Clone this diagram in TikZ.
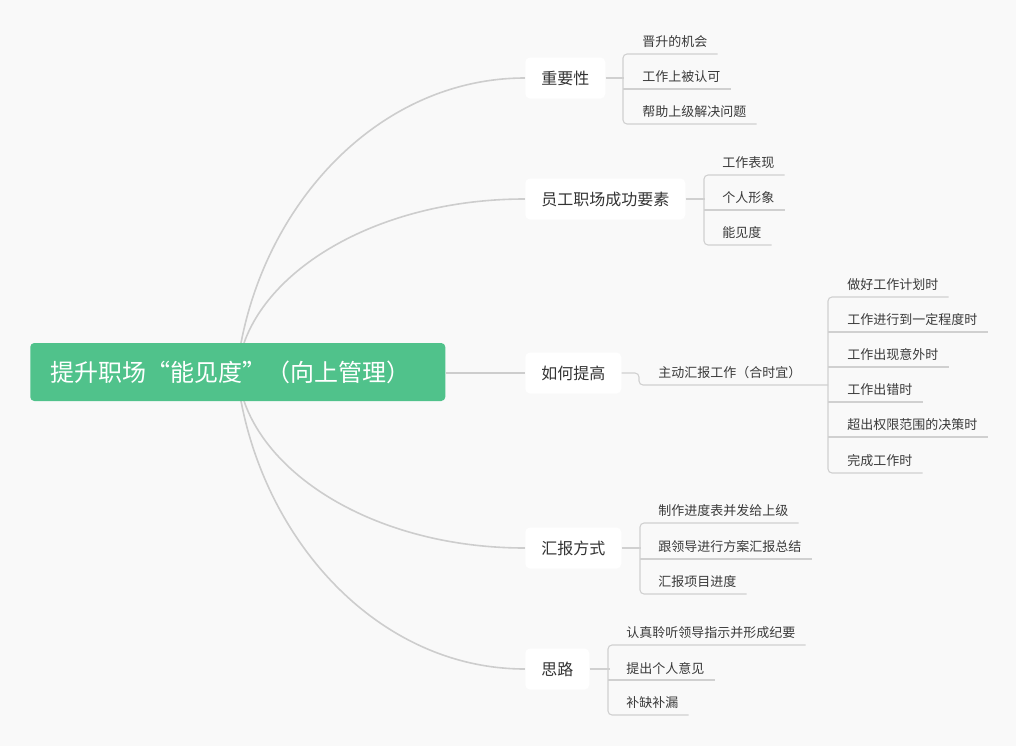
\documentclass[tikz,border=0pt]{standalone}
\usepackage{fontspec}
\setmainfont{Noto Sans CJK SC}
\usetikzlibrary{calc}
\definecolor{bg}{HTML}{F9F9F9}
\definecolor{rootg}{HTML}{50C28B}
\definecolor{curvec}{HTML}{CDCDCD}
\definecolor{ulc}{HTML}{D0D0D0}
\definecolor{txt}{HTML}{333333}
\definecolor{ctxt}{HTML}{3A3A3A}
\begin{document}
\begin{tikzpicture}[x=0.75pt,y=-0.75pt,
  rootbox/.style={fill=rootg, rounded corners=3pt, text=white,
    font=\fontsize{18}{20}\selectfont, minimum height=43.5pt,
    inner xsep=15pt, inner ysep=0pt, text width=281.25pt, align=left, anchor=west},
  branch/.style={fill=white, rounded corners=3.5pt, text=txt,
    font=\fontsize{12}{14}\selectfont, minimum height=30.75pt,
    inner xsep=12pt, inner ysep=0pt, anchor=west},
  child/.style={text=ctxt, font=\fontsize{9.75}{11}\selectfont, inner sep=0pt, anchor=west},
  curve/.style={draw=curvec, line width=1.2pt},
  ul/.style={draw=ulc, line width=0.8pt},
  bracket/.style={draw=ulc, line width=0.8pt, rounded corners=3pt}]
\fill[bg] (0,0) rectangle (1016,746);
\useasboundingbox (0,0) rectangle (1016,746);

% curve start points on the root box border
\coordinate (s1) at (241,343);
\coordinate (s2) at (244,343);
\coordinate (s4) at (244,401);
\coordinate (s5) at (241,401);
\path (525,78) coordinate (p1) (525,199) coordinate (p2) (525,548) coordinate (p4) (525,669) coordinate (p5);

\draw[curve] (s1) .. controls (269,197) and (383,78) .. (p1);
\draw[curve] (s2) .. controls (272,264) and (384,199) .. (p2);
\draw[curve] (s4) .. controls (272,482) and (384,548) .. (p4);
\draw[curve] (s5) .. controls (269,548) and (383,669) .. (p5);

\node[rootbox] (root) at (30,372) {提升职场“能见度”（向上管理）};

\node[branch] (b1) at (p1) {重要性};
\node[branch] (b2) at (p2) {员工职场成功要素};
\node[branch] (b3) at (525,373) {如何提高};
\node[branch] (b4) at (p4) {汇报方式};
\node[branch] (b5) at (p5) {思路};

\draw[curve] (root.east |- b3.west) -- (b3.west);

% group 1
\node[child] (a1) at (642,42) {晋升的机会};
\node[child] (a2) at (642,77) {工作上被认可};
\node[child] (a3) at (642,112) {帮助上级解决问题};
\draw[ul] (b1.east) -- ($(b1.east)+(18,0)$);
\draw[bracket] ($(a1.east)+(10,12)$) -- ($(a1.west)+(-19,12)$) -- ($(a3.west)+(-19,12)$) -- ($(a3.east)+(10,12)$);
\draw[ul] ($(a2.west)+(-19,12)$) -- ($(a2.east)+(10,12)$);

% group 2
\node[child] (c1) at (722,163) {工作表现};
\node[child] (c2) at (722,198) {个人形象};
\node[child] (c3) at (722,233) {能见度};
\draw[ul] (b2.east) -- ($(b2.east)+(19,0)$);
\draw[bracket] ($(c1.east)+(10,12)$) -- ($(c1.west)+(-18,12)$) -- ($(c3.west)+(-18,12)$) -- ($(c3.east)+(10,12)$);
\draw[ul] ($(c2.west)+(-18,12)$) -- ($(c2.east)+(10,12)$);

% group 3
\node[child] (h0) at (658,373) {主动汇报工作（合时宜）};
\node[child] (h1) at (847,285) {做好工作计划时};
\node[child] (h2) at (847,320) {工作进行到一定程度时};
\node[child] (h3) at (847,355) {工作出现意外时};
\node[child] (h4) at (847,390) {工作出错时};
\node[child] (h5) at (847,425) {超出权限范围的决策时};
\node[child] (h6) at (847,461) {完成工作时};
\coordinate (hs) at ($(h1.west)+(-19,12)$);
\coordinate (h0u) at ($(h0.west)+(-19,12)$);
\draw[bracket] (b3.east) -- (h0u |- b3.east) -- (h0u) -- (h0u -| hs);
\draw[bracket] ($(h1.east)+(10,12)$) -- (hs) -- ($(h6.west)+(-19,12)$) -- ($(h6.east)+(10,12)$);
\foreach \n in {h2,h3,h4,h5} {
  \draw[ul] ($(\n.west)+(-19,12)$) -- ($(\n.east)+(10,12)$);
}

% group 4
\node[child] (d1) at (658,511) {制作进度表并发给上级};
\node[child] (d2) at (658,547) {跟领导进行方案汇报总结};
\node[child] (d3) at (658,582) {汇报项目进度};
\draw[ul] (b4.east) -- ($(b4.east)+(19,0)$);
\draw[bracket] ($(d1.east)+(10,12)$) -- ($(d1.west)+(-18,12)$) -- ($(d3.west)+(-18,12)$) -- ($(d3.east)+(10,12)$);
\draw[ul] ($(d2.west)+(-18,12)$) -- ($(d2.east)+(10,12)$);

% group 5
\node[child] (e1) at (626,633) {认真聆听领导指示并形成纪要};
\node[child] (e2) at (626,668) {提出个人意见};
\node[child] (e3) at (626,703) {补缺补漏};
\draw[ul] (b5.east) -- ($(b5.east)+(20,0)$);
\draw[bracket] ($(e1.east)+(10,12)$) -- ($(e1.west)+(-18,12)$) -- ($(e3.west)+(-18,12)$) -- ($(e3.east)+(10,12)$);
\draw[ul] ($(e2.west)+(-18,12)$) -- ($(e2.east)+(10,12)$);
\end{tikzpicture}
\end{document}
